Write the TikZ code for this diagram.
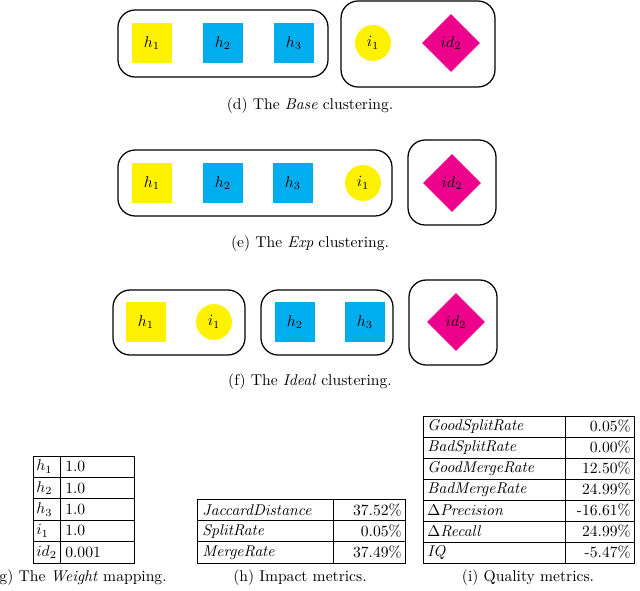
\documentclass[tikz,border=0pt]{standalone}
\usetikzlibrary{shapes.geometric}
\definecolor{cy}{RGB}{0,174,239}
\definecolor{ye}{RGB}{255,242,0}
\definecolor{mg}{RGB}{236,0,140}
\begin{document}
\begin{tikzpicture}[x=0.64pt,y=-0.64pt,
 sq/.style={rectangle,minimum size=25.6pt,inner sep=0pt},
 hsq/.style={sq,fill=ye},
 bsq/.style={sq,fill=cy},
 circ/.style={circle,fill=ye,minimum size=23pt,inner sep=0pt},
 dia/.style={diamond,fill=mg,minimum size=37pt,inner sep=0pt},
 clus/.style={draw,rounded corners=11pt,thick},
 captxt/.style={font=\normalsize},
 tb/.style={line width=0.5pt}]
\useasboundingbox (0,0) rectangle (640,590);
% row d
\draw[clus] (118,10) rectangle (328,77);
\draw[clus] (341,1) rectangle (495,87);
\node[hsq] (d1) at (152,43) {$h_1$};
\node[bsq] (d2) at (223,43) {$h_2$};
\node[bsq] (d3) at (294,43) {$h_3$};
\node[circ] (d4) at (373,43) {$i_1$};
\node[dia] (d5) at (451,43) {$id_2$};
\node[captxt] (cd) at (310,106) {(d) The \textit{Base} clustering.};
% row e
\draw[clus] (118,150) rectangle (392,216);
\draw[clus] (408,140) rectangle (496,225);
\node[hsq] (e1) at (152,183) {$h_1$};
\node[bsq] (e2) at (223,183) {$h_2$};
\node[bsq] (e3) at (293,183) {$h_3$};
\node[circ] (e4) at (363,183) {$i_1$};
\node[dia] (e5) at (452,183) {$id_2$};
\node[captxt] (ce) at (310,244) {(e) The \textit{Exp} clustering.};
% row f
\draw[clus] (113,290) rectangle (245,355);
\draw[clus] (261,290) rectangle (393,355);
\draw[clus] (409,280) rectangle (497,365);
\node[hsq] (f1) at (146,322) {$h_1$};
\node[circ] (f2) at (214,322) {$i_1$};
\node[bsq] (f3) at (295,322) {$h_2$};
\node[bsq] (f4) at (365,322) {$h_3$};
\node[dia] (f5) at (456,322) {$id_2$};
\node[captxt] (cf) at (310,382) {(f) The \textit{Ideal} clustering.};
% weight table
\draw[tb] (33,456) rectangle (134,563);
\draw[tb] (60,456) -- (60,563);
\foreach \i in {1,...,4} \draw[tb] (33,{456+\i*21.4}) -- (134,{456+\i*21.4});
\foreach \a/\b [count=\i from 0] in {$h_1$/1.0,$h_2$/1.0,$h_3$/1.0,$i_1$/1.0,$id_2$/0.001}
 {\node[anchor=west,inner sep=0pt] at (36,{466.7+\i*21.4}) {\a};
  \node[anchor=west,inner sep=0pt] at (65,{466.7+\i*21.4}) {\b};}
\node[captxt] (cg) at (80,578) {(g) The \textit{Weight} mapping.};
% impact table
\draw[tb] (197,499) rectangle (405,563);
\draw[tb] (333,499) -- (333,563);
\foreach \i in {1,2} \draw[tb] (197,{499+\i*21.4}) -- (405,{499+\i*21.4});
\foreach \a/\b [count=\i from 0] in {JaccardDistance/37.52\%,SplitRate/0.05\%,MergeRate/37.49\%}
 {\node[anchor=west,inner sep=0pt] at (202,{509.7+\i*21.4}) {$\mathit{\a}$};
  \node[anchor=east,inner sep=0pt] at (402,{509.7+\i*21.4}) {\b};}
\node[captxt] (ch) at (300,578) {(h) Impact metrics.};
% quality table
\draw[tb] (423,416) rectangle (634,563);
\draw[tb] (565,416) -- (565,563);
\foreach \i in {1,...,6} \draw[tb] (423,{416+\i*21}) -- (634,{416+\i*21});
\foreach \a/\b [count=\i from 0] in {\mathit{GoodSplitRate}/0.05\%,\mathit{BadSplitRate}/0.00\%,\mathit{GoodMergeRate}/12.50\%,\mathit{BadMergeRate}/24.99\%,\Delta\mathit{Precision}/-16.61\%,\Delta\mathit{Recall}/24.99\%,\mathit{IQ}/-5.47\%}
 {\node[anchor=west,inner sep=0pt] at (427,{426.5+\i*21}) {$\a$};
  \node[anchor=east,inner sep=0pt] at (631,{426.5+\i*21}) {\b};}
\node[captxt] (ci) at (528,578) {(i) Quality metrics.};
\end{tikzpicture}
\end{document}
